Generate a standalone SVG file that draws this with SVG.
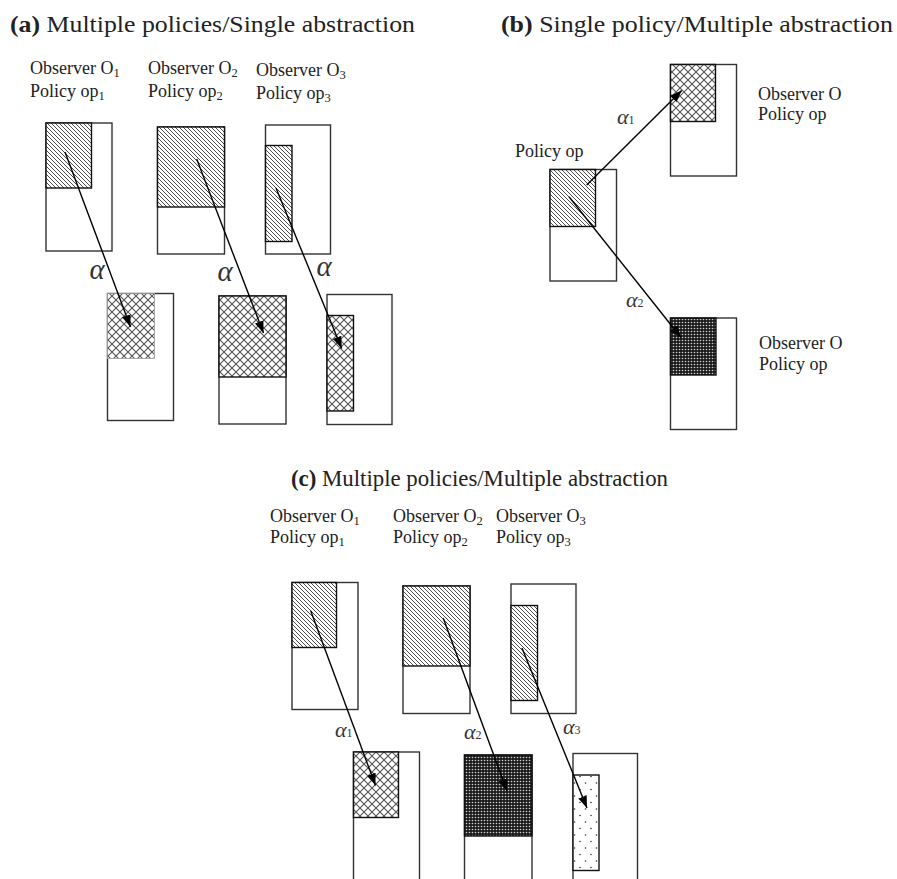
<svg xmlns="http://www.w3.org/2000/svg" width="897" height="879" viewBox="0 0 897 879">
<style>
.title{font-family:"Liberation Serif","Times New Roman",serif;font-size:23px;fill:#222}
.title .b{font-weight:bold}
.lbl{font-family:"Liberation Serif","Times New Roman",serif;font-size:18px;fill:#222}
.sub{font-size:12.5px}
.alpha{font-family:"Liberation Serif","Times New Roman",serif;font-style:italic;font-size:29px;fill:#333}
.alpha2{font-family:"Liberation Serif","Times New Roman",serif;font-style:italic;font-size:22px;fill:#333}
.asub{font-size:12px;font-style:normal}
.box{fill:#fff;stroke:#333;stroke-width:1.4}
.in{stroke:#111;stroke-width:1.4}
.hatch{fill:url(#hatch)}
.cross{fill:url(#cross)}
.dense{fill:url(#dense)}
.sparse{fill:url(#sparse)}
.arr{stroke:#000;stroke-width:1.4;fill:none;marker-end:url(#head)}
</style>
<defs>
<pattern id="hatch" width="4" height="4" patternUnits="userSpaceOnUse">
<rect width="4" height="4" fill="#fff"/>
<path d="M-1,-1 L5,5 M-1,3 L1,5 M3,-1 L5,1" stroke="#3a3a3a" stroke-width="0.9"/>
</pattern>
<pattern id="cross" width="8" height="8" patternUnits="userSpaceOnUse">
<rect width="8" height="8" fill="#fff"/>
<path d="M0,0 L8,8 M8,0 L0,8" stroke="#555" stroke-width="1.1"/>
</pattern>
<pattern id="dense" width="3" height="3" patternUnits="userSpaceOnUse">
<rect width="3" height="3" fill="#1c1c1c"/>
<circle cx="1.5" cy="1.5" r="0.8" fill="#d0d0d0"/>
</pattern>
<pattern id="sparse" width="11" height="13" patternUnits="userSpaceOnUse">
<rect width="11" height="13" fill="#fff"/>
<circle cx="2.5" cy="3" r="0.8" fill="#333"/>
<circle cx="8" cy="9.5" r="0.8" fill="#333"/>
</pattern>
<marker id="head" markerWidth="14" markerHeight="10" refX="12" refY="4.5" orient="auto" markerUnits="userSpaceOnUse">
<path d="M0,0 L12,4.5 L0,9 z" fill="#000"/>
</marker>
</defs>

<!-- Titles -->
<text class="title" x="10" y="32" textLength="405" lengthAdjust="spacingAndGlyphs"><tspan class="b">(a)</tspan> Multiple policies/Single abstraction</text>
<text class="title" x="501" y="32" textLength="392" lengthAdjust="spacingAndGlyphs"><tspan class="b">(b)</tspan> Single policy/Multiple abstraction</text>
<text class="title" x="291" y="486" textLength="377" lengthAdjust="spacingAndGlyphs"><tspan class="b">(c)</tspan> Multiple policies/Multiple abstraction</text>

<!-- (a) labels -->
<g id="a-label1"><text class="lbl" x="30" y="74">Observer O<tspan class="sub" dy="2.5">1</tspan></text><text class="lbl" x="30" y="97">Policy op<tspan class="sub" dy="2.5">1</tspan></text></g>
<g id="a-label2"><text class="lbl" x="148" y="74">Observer O<tspan class="sub" dy="2.5">2</tspan></text><text class="lbl" x="148" y="97">Policy op<tspan class="sub" dy="2.5">2</tspan></text></g>
<g id="a-label3"><text class="lbl" x="256" y="76">Observer O<tspan class="sub" dy="2.5">3</tspan></text><text class="lbl" x="256" y="99">Policy op<tspan class="sub" dy="2.5">3</tspan></text></g>

<!-- (a) top boxes -->
<g id="a-top1"><rect class="box" x="46" y="123" width="66" height="128"/><rect class="hatch in" x="46" y="123" width="45.5" height="65"/></g>
<g id="a-top2"><rect class="box" x="157.5" y="127" width="67" height="127"/><rect class="hatch in" x="157.5" y="127" width="67" height="80"/></g>
<g id="a-top3"><rect class="box" x="265.5" y="125" width="65" height="129"/><rect class="hatch in" x="265.5" y="145.5" width="26.5" height="96"/></g>

<!-- (a) bottom boxes -->
<g id="a-bot1"><rect class="box" x="107.5" y="293.5" width="66" height="127"/><rect class="cross" x="107.5" y="293.5" width="47" height="65" stroke="#999" stroke-width="0.8"/></g>
<g id="a-bot2"><rect class="box" x="219" y="296" width="67" height="128"/><rect class="cross in" x="219" y="296" width="67" height="81"/></g>
<g id="a-bot3"><rect class="box" x="327" y="294.5" width="65" height="130"/><rect class="cross in" x="327" y="315.5" width="26.5" height="95.5"/></g>

<!-- (b) -->
<g id="b-src"><text class="lbl" x="515" y="157">Policy op</text><rect class="box" x="550" y="169.5" width="66.5" height="111.5"/><rect class="hatch in" x="550" y="169.5" width="45.5" height="57"/></g>
<g id="b-top"><rect class="box" x="670.5" y="64.5" width="66" height="111.5"/><rect class="cross in" x="670.5" y="64.5" width="45" height="57"/><text class="lbl" x="758" y="100">Observer O</text><text class="lbl" x="758" y="120">Policy op</text></g>
<g id="b-bot"><rect class="box" x="670.5" y="318" width="66" height="111.5"/><rect class="dense in" x="670.5" y="318" width="45.5" height="57"/><text class="lbl" x="759" y="349">Observer O</text><text class="lbl" x="759" y="370">Policy op</text></g>

<!-- (c) labels -->
<g id="c-label1"><text class="lbl" x="270" y="522">Observer O<tspan class="sub" dy="2.5">1</tspan></text><text class="lbl" x="270" y="543">Policy op<tspan class="sub" dy="2.5">1</tspan></text></g>
<g id="c-label2"><text class="lbl" x="393" y="522">Observer O<tspan class="sub" dy="2.5">2</tspan></text><text class="lbl" x="393" y="543">Policy op<tspan class="sub" dy="2.5">2</tspan></text></g>
<g id="c-label3"><text class="lbl" x="496" y="522">Observer O<tspan class="sub" dy="2.5">3</tspan></text><text class="lbl" x="496" y="543">Policy op<tspan class="sub" dy="2.5">3</tspan></text></g>

<!-- (c) top boxes -->
<g id="c-top1"><rect class="box" x="292" y="582.5" width="66" height="127"/><rect class="hatch in" x="292" y="582.5" width="44.5" height="65"/></g>
<g id="c-top2"><rect class="box" x="403" y="586" width="67" height="127.5"/><rect class="hatch in" x="403" y="586" width="67" height="80"/></g>
<g id="c-top3"><rect class="box" x="511" y="584" width="65" height="129.5"/><rect class="hatch in" x="511" y="605.5" width="26.5" height="95"/></g>

<!-- (c) bottom boxes -->
<g id="c-bot1"><rect class="box" x="353.5" y="752" width="66" height="140"/><rect class="cross in" x="353.5" y="752" width="45" height="65.5"/></g>
<g id="c-bot2"><rect class="box" x="464.5" y="755" width="67.5" height="140"/><rect class="dense in" x="464.5" y="755" width="67.5" height="81"/></g>
<g id="c-bot3"><rect class="box" x="573" y="753.5" width="64.5" height="140"/><rect class="sparse in" x="573" y="775" width="26" height="95.5"/></g>

<!-- connectors -->
<g id="connectors">
<line class="arr" x1="65" y1="152" x2="130.5" y2="327"/>
<line class="arr" x1="196.7" y1="159" x2="263.5" y2="333"/>
<line class="arr" x1="276" y1="188" x2="341.7" y2="348.5"/>
<line class="arr" x1="586.7" y1="185" x2="681.7" y2="90.5"/>
<line class="arr" x1="569" y1="196.7" x2="681" y2="337.5"/>
<line class="arr" x1="310.7" y1="610.7" x2="375.5" y2="785.5"/>
<line class="arr" x1="443.3" y1="618.3" x2="507" y2="791"/>
<line class="arr" x1="522" y1="648" x2="587" y2="808"/>
</g>

<!-- alpha labels -->
<g id="alphas">
<text class="alpha" x="97" y="279" text-anchor="middle">α</text>
<text class="alpha" x="225" y="281" text-anchor="middle">α</text>
<text class="alpha" x="324" y="276" text-anchor="middle">α</text>
<text class="alpha2" x="617" y="124">α<tspan class="asub">1</tspan></text>
<text class="alpha2" x="626" y="307">α<tspan class="asub">2</tspan></text>
<text class="alpha2" x="335" y="737">α<tspan class="asub">1</tspan></text>
<text class="alpha2" x="464" y="739">α<tspan class="asub">2</tspan></text>
<text class="alpha2" x="563" y="734">α<tspan class="asub">3</tspan></text>
</g>
</svg>
